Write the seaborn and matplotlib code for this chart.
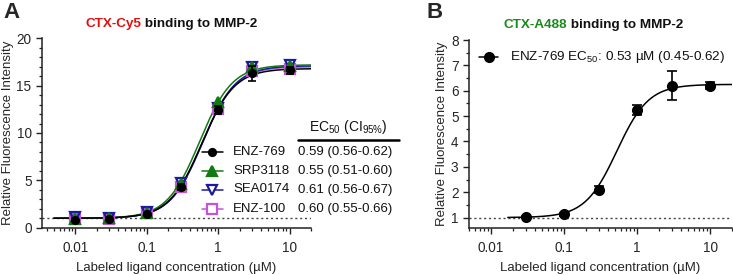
import numpy as np
import pandas as pd
import matplotlib
matplotlib.use("Agg")
import matplotlib.pyplot as plt
import seaborn as sns
from matplotlib.ticker import LogLocator, FixedLocator, MultipleLocator, NullFormatter

sns.set_theme(style="ticks")
plt.rcParams['font.family'] = ['Liberation Sans', 'DejaVu Sans']
plt.rcParams['mathtext.fontset'] = 'custom'
plt.rcParams['mathtext.rm'] = 'Liberation Sans'

# ---------------- data ----------------
conc_a = [0.01, 0.03, 0.1, 0.3, 1, 3, 10]
series_names = ["ENZ-769", "SRP3118", "SEA0174", "ENZ-100"]
enz769 = [0.85, 0.9, 1.45, 4.3, 12.4, 16.3, 16.6]
enz769_err = [0.1, 0.1, 0.1, 0.3, 0.4, 0.8, 0.4]
srp3118 = [0.95, 1.0, 1.6, 4.6, 13.3, 17.0, 17.1]
sea0174 = [1.1, 1.0, 1.7, 4.7, 12.6, 17.0, 17.2]
enz100 = [0.9, 0.9, 1.5, 4.3, 12.5, 16.5, 16.8]
ec50_a = [0.59, 0.55, 0.61, 0.60]
top_a = [16.8, 17.2, 17.1, 17.0]
bottom_a = [1.0, 1.0, 1.0, 1.0]
hill_a = [1.9, 1.9, 1.9, 1.9]
ec50_labels_a = ["0.59 (0.56-0.62)", "0.55 (0.51-0.60)", "0.61 (0.56-0.67)", "0.60 (0.55-0.66)"]

conc_b = [0.03, 0.1, 0.3, 1, 3, 10]
enz769_b = [1.02, 1.13, 2.1, 5.25, 6.2, 6.2]
enz769_b_err = [0.05, 0.05, 0.15, 0.2, 0.58, 0.15]
ec50_b, top_b, bottom_b, hill_b = 0.53, 6.25, 1.0, 2.0

colors = ["#000000", "#117a11", "#1a1aa0", "#c455d8"]
markers = ["o", "^", "v", "s"]
filled = [True, True, False, False]


def hill(x, bottom, top, ec50, h):
    return bottom + (top - bottom) / (1 + (ec50 / x) ** h)


fig = plt.figure(figsize=(7.33, 2.75), dpi=100)
W, H = 733, 275


def ax_rect(l, r, t, b):
    return [l / W, 1 - b / H, (r - l) / W, (b - t) / H]


axA = fig.add_axes(ax_rect(42, 311, 38.3, 227.7))
axB = fig.add_axes(ax_rect(469, 732, 40, 227.7))

FS = 9.5

def style_axis(ax):
    ax.set_xscale('log')
    for s in ['top', 'right']:
        ax.spines[s].set_visible(False)
    for s in ['left', 'bottom']:
        ax.spines[s].set_linewidth(1.1)
        ax.spines[s].set_color('#222222')
    ax.tick_params(which='major', length=4.5, width=1.0, labelsize=FS + 0.3, color='#222222', pad=3)
    ax.tick_params(axis='x', which='major', pad=5)
    ax.tick_params(which='minor', length=2.5, width=0.9, color='#222222')
    ax.xaxis.set_major_locator(FixedLocator([0.01, 0.1, 1, 10]))
    ax.xaxis.set_major_formatter(matplotlib.ticker.FixedFormatter(["0.01", "0.1", "1", "10"]))
    ax.xaxis.set_minor_locator(LogLocator(base=10, subs=np.arange(2, 10), numticks=20))
    ax.xaxis.set_minor_formatter(NullFormatter())
    ax.set_xlabel("Labeled ligand concentration (µM)", fontsize=FS, labelpad=5)
    ax.set_ylabel("Relative Fluorescence Intensity", fontsize=FS, labelpad=2)
    ax.set_facecolor('none')


# ---------------- Panel A ----------------
ax = axA
style_axis(ax)
ax.set_xlim(0.0034, 20)
ax.set_ylim(0, 20)
ax.yaxis.set_major_locator(MultipleLocator(5))
ax.yaxis.set_minor_locator(MultipleLocator(1))
ax.axhline(1, color='#444444', ls=(0, (1.5, 2)), lw=1.0, zorder=1)

xs = np.logspace(np.log10(0.005), np.log10(20), 300)
vals_a = [enz769, srp3118, sea0174, enz100]
order = [3, 2, 1, 0]
for i in order:
    curve = pd.DataFrame({"x": xs, "y": hill(xs, bottom_a[i], top_a[i], ec50_a[i], hill_a[i])})
    sns.lineplot(data=curve, x="x", y="y", ax=ax, color=colors[i], lw=1.1, zorder=2 + (i == 0))
for i in order:
    fc = colors[i] if filled[i] else 'none'
    ms = 5 if i == 0 else 7
    if i == 0:
        ax.errorbar(conc_a, vals_a[i], yerr=enz769_err, fmt='none', ecolor='black',
                    elinewidth=1.2, capsize=3, capthick=1.2, zorder=6)
    ax.plot(conc_a, vals_a[i], ls='none', marker=markers[i], ms=ms, mfc=fc,
            mec=colors[i], mew=1.6, zorder=5 + (i == 0), clip_on=False)

# legend table
def fx(px):
    return px / W

def fy(py):
    return 1 - py / H

rows_y = [151.7, 170.7, 189.5, 209]
for i in range(4):
    fc = colors[i] if filled[i] else 'white'
    ms = 5 if i == 0 else 7
    fig.lines.append(matplotlib.lines.Line2D([fx(201.5), fx(223)], [fy(rows_y[i])] * 2,
                                             color=colors[i], lw=1.1, transform=fig.transFigure))
    fig.lines.append(matplotlib.lines.Line2D([fx(212.3)], [fy(rows_y[i])], ls='none',
                                             marker=markers[i], ms=ms, mfc=fc, mec=colors[i], mew=1.6,
                                             transform=fig.transFigure))
    fig.text(fx(233), fy(rows_y[i]), series_names[i], fontsize=FS, va='center', ha='left', color='#111111')
    fig.text(fx(297.5), fy(rows_y[i]), ec50_labels_a[i], fontsize=FS, va='center', ha='left', color='#111111')
fig.text(fx(348), fy(127), r"EC$_{50}$ (CI$_{95\%}$)", fontsize=FS + 0.5, va='center', ha='center', color='#111111')
fig.lines.append(matplotlib.lines.Line2D([fx(297.5), fx(399)], [fy(140)] * 2, color='black', lw=1.8,
                                         transform=fig.transFigure))

# ---------------- Panel B ----------------
ax = axB
style_axis(ax)
ax.set_xlim(0.005, 20)
ax.set_ylim(0.6, 8)
ax.yaxis.set_major_locator(FixedLocator([1, 2, 3, 4, 5, 6, 7, 8]))
ax.yaxis.set_minor_locator(FixedLocator([1.5, 2.5, 3.5, 4.5, 5.5, 6.5, 7.5]))
ax.axhline(1, color='#444444', ls=(0, (1.5, 2)), lw=1.0, zorder=1)
xsb = np.logspace(np.log10(0.017), np.log10(20), 300)
curve_b = pd.DataFrame({"x": xsb, "y": hill(xsb, bottom_b, top_b, ec50_b, hill_b)})
sns.lineplot(data=curve_b, x="x", y="y", ax=ax, color='black', lw=1.1, zorder=2)
ax.errorbar(conc_b, enz769_b, yerr=enz769_b_err, fmt='none', ecolor='black',
            elinewidth=1.2, capsize=3.5, capthick=1.2, zorder=4)
ax.plot(conc_b, enz769_b, ls='none', marker='o', ms=7, mfc='black', mec='black', zorder=5)
ax.set_xlabel("Labeled ligand concentration (µM)", fontsize=FS, labelpad=5)

fig.lines.append(matplotlib.lines.Line2D([fx(479), fx(498)], [fy(57)] * 2, color='black', lw=1.1,
                                         transform=fig.transFigure))
fig.lines.append(matplotlib.lines.Line2D([fx(488.5)], [fy(57)], ls='none', marker='o', ms=7,
                                         mfc='black', mec='black', transform=fig.transFigure))
fig.text(fx(510.5), fy(57), r"ENZ-769 EC$_{50}$: 0.53 µM (0.45-0.62)", fontsize=FS + 0.2, va='center',
         ha='left', color='#111111')

# ---------------- Titles ----------------
def two_color_title(x_px, y_px, colored, color, rest):
    t1 = fig.text(fx(x_px), fy(y_px), colored, fontsize=FS + 0.2, fontweight='bold', color=color,
                  va='center', ha='left')
    fig.canvas.draw()
    bb = t1.get_window_extent()
    fig.text(bb.x1 / W, fy(y_px), " " + rest, fontsize=FS + 0.2, fontweight='bold', color='#111111',
             va='center', ha='left')

two_color_title(85, 24.5, "CTX-Cy5", "#e01010", "binding to MMP-2")
two_color_title(503, 25, "CTX-A488", "#1a8a1a", "binding to MMP-2")

fig.text(fx(3), fy(13), "A", fontsize=16, fontweight='bold', va='center', ha='left')
fig.text(fx(427), fy(13), "B", fontsize=16, fontweight='bold', va='center', ha='left')

fig.savefig("out.png", dpi=100)
